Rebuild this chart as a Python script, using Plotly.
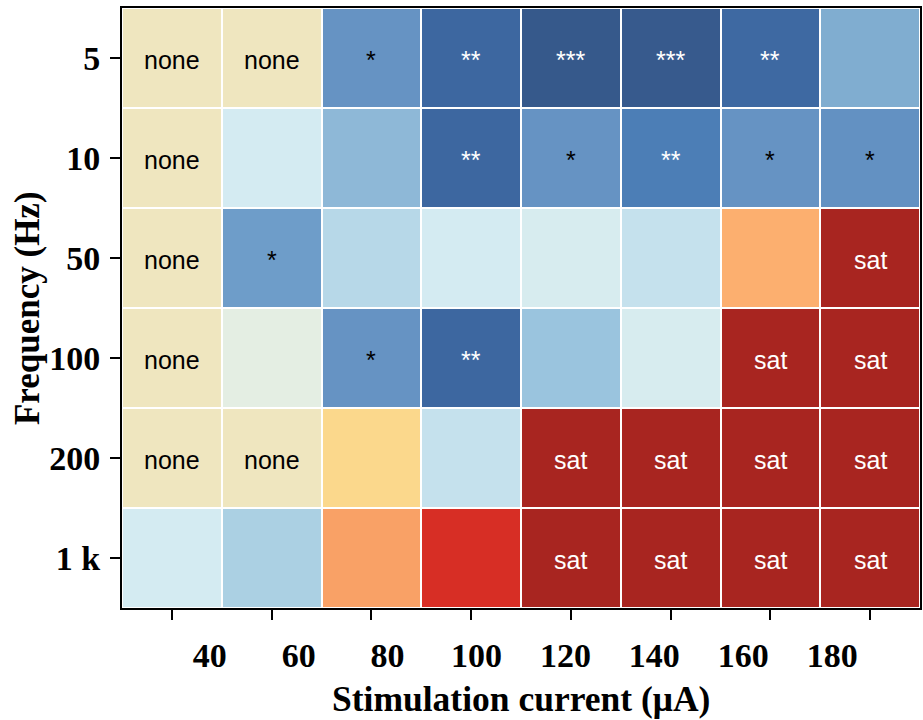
import plotly.graph_objects as go

# ---------------- data ----------------
currents = [40, 60, 80, 100, 120, 140, 160, 180]          # µA
freq_labels = ["5", "10", "50", "100", "200", "1 k"]        # Hz

# signed response score per cell (None = no response)
scores = [
    [None, None, -0.52, -0.75, -0.85, -0.84, -0.74, -0.38],
    [None, -0.05, -0.32, -0.75, -0.52, -0.62, -0.52, -0.53],
    [None, -0.45, -0.16, -0.05, -0.04, -0.10, 0.35, 1.00],
    [None, 0.00, -0.52, -0.75, -0.27, -0.04, 1.00, 1.00],
    [None, None, 0.15, -0.10, 1.00, 1.00, 1.00, 1.00],
    [-0.05, -0.22, 0.45, 0.70, 1.00, 1.00, 1.00, 1.00],
]

cell_labels = [
    ["none", "none", "*", "**", "***", "***", "**", ""],
    ["none", "", "", "**", "*", "**", "*", "*"],
    ["none", "*", "", "", "", "", "", "sat"],
    ["none", "", "*", "**", "", "", "sat", "sat"],
    ["none", "none", "", "", "sat", "sat", "sat", "sat"],
    ["", "", "", "", "sat", "sat", "sat", "sat"],
]

# ---------------- style ----------------
stops = [
    (-1.00, "#2F5184"), (-0.85, "#36598B"), (-0.75, "#3D67A0"),
    (-0.62, "#4C7EB6"), (-0.52, "#6693C3"), (-0.45, "#6E9DC9"),
    (-0.38, "#80ADD0"), (-0.32, "#8EB8D7"), (-0.27, "#9AC4DE"),
    (-0.22, "#ABD0E3"), (-0.16, "#B7D8E8"), (-0.10, "#C5E1ED"),
    (-0.05, "#D4EBF2"), (0.00, "#E4EEE3"), (0.15, "#FBD88C"),
    (0.35, "#FCAF6F"), (0.45, "#F9A166"), (0.70, "#D72E25"),
    (1.00, "#A82520"),
]
colorscale = [[(v + 1) / 2, c] for v, c in stops]
none_color = "#EFE6BF"
serif = "Liberation Serif"
sans = "Liberation Sans"

n_rows, n_cols = len(freq_labels), len(currents)
xi = list(range(n_cols))
yi = list(range(n_rows))

none_z = [[1 if cell_labels[r][c] == "none" else None for c in xi] for r in yi]

fig = go.Figure()
fig.add_trace(go.Heatmap(
    z=scores, x=xi, y=yi, zmin=-1, zmax=1, colorscale=colorscale,
    showscale=False, xgap=2, ygap=2, hoverinfo="skip",
))
fig.add_trace(go.Heatmap(
    z=none_z, x=xi, y=yi, zmin=0, zmax=1,
    colorscale=[[0, none_color], [1, none_color]],
    showscale=False, xgap=2, ygap=2, hoverinfo="skip",
))
# invisible trace to carry the tick-label axis
fig.add_trace(go.Scatter(
    x=currents, y=[0] * n_cols, xaxis="x2", yaxis="y",
    mode="markers", marker=dict(opacity=0), hoverinfo="skip", showlegend=False,
))

white_labels = {"**", "***", "sat"}
for r in yi:
    for c in xi:
        lab = cell_labels[r][c]
        if not lab:
            continue
        fig.add_annotation(
            x=c, y=r, xref="x", yref="y", text=lab, showarrow=False, yshift=-2,
            font=dict(family=sans, size=25,
                      color="white" if lab in white_labels else "black"),
        )

fig.add_annotation(
    x=0.5, y=-0.151, xref="paper", yref="paper", text="Stimulation current (μA)",
    showarrow=False, yanchor="middle", xanchor="center",
    font=dict(family=serif, size=35.5, weight="bold", color="black"),
)
fig.add_annotation(
    x=-0.119, y=0.5, xref="paper", yref="paper", text="Frequency (Hz)",
    showarrow=False, textangle=-90, xanchor="center", yanchor="middle",
    font=dict(family=serif, size=35, weight="bold", color="black"),
)

fig.update_layout(
    width=923, height=720,
    margin=dict(l=122, r=1, t=8, b=112),
    paper_bgcolor="white", plot_bgcolor="white",
    showlegend=False,
    xaxis=dict(
        range=[-0.5, n_cols - 0.5], tickvals=xi, showticklabels=False,
        ticks="outside", ticklen=10, tickwidth=2, tickcolor="black",
        showline=True, linecolor="black", linewidth=2, mirror=True,
        showgrid=False, zeroline=False,
    ),
    xaxis2=dict(
        overlaying="x", anchor="y", side="bottom",
        range=[20.26, 199.75], tickvals=currents,
        ticktext=[str(v) for v in currents],
        ticks="", showline=False, showgrid=False, zeroline=False,
        tickfont=dict(family=serif, size=34, weight="bold", color="black"),
        ticklabelstandoff=24,
    ),
    yaxis=dict(
        range=[n_rows - 0.5, -0.5], tickvals=yi, ticktext=freq_labels,
        ticks="outside", ticklen=10, tickwidth=2, tickcolor="black",
        showline=True, linecolor="black", linewidth=2, mirror=True,
        showgrid=False, zeroline=False, ticklabelstandoff=3,
        tickfont=dict(family=serif, size=34, weight="bold", color="black"),
    ),
)

fig.write_html("out.html")
